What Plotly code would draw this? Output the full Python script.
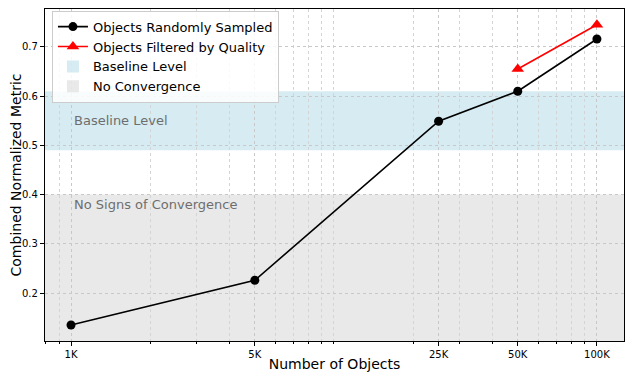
import plotly.graph_objects as go

# data
n_objects = [1000, 5000, 25000, 50000, 100000]
random_metric = [0.135, 0.226, 0.549, 0.610, 0.716]

filtered_objects = [50000, 100000]
filtered_metric = [0.655, 0.745]

tick_vals = [1000, 5000, 25000, 50000, 100000]
tick_text = ["1K", "5K", "25K", "50K", "100K"]

baseline_band = (0.49, 0.61)
no_conv_band = (0.0, 0.40)

fig = go.Figure()

fig.add_trace(go.Scatter(
    x=n_objects, y=random_metric, mode="lines+markers",
    name="Objects Randomly Sampled",
    line=dict(color="black", width=1.6),
    marker=dict(color="black", size=9, symbol="circle"),
))

fig.add_trace(go.Scatter(
    x=filtered_objects, y=filtered_metric, mode="lines+markers",
    name="Objects Filtered by Quality",
    line=dict(color="red", width=1.6),
    marker=dict(color="red", size=11, symbol="triangle-up"),
))

# shaded regions (with legend entries)
fig.add_shape(type="rect", xref="x domain", yref="y",
              x0=0, x1=1, y0=baseline_band[0], y1=baseline_band[1],
              fillcolor="rgba(173,216,230,0.5)", line=dict(width=0),
              layer="below", showlegend=True, name="Baseline Level")
fig.add_shape(type="rect", xref="x domain", yref="y",
              x0=0, x1=1, y0=no_conv_band[0], y1=no_conv_band[1],
              fillcolor="rgba(211,211,211,0.5)", line=dict(width=0),
              layer="below", showlegend=True, name="No Convergence")

fig.add_annotation(x=0.047, xref="x domain", y=0.55, yref="y",
                   text="Baseline Level", showarrow=False, xanchor="left",
                   font=dict(size=13, color="#6e6e6e"))
fig.add_annotation(x=0.047, xref="x domain", y=0.38, yref="y",
                   text="No Signs of Convergence", showarrow=False, xanchor="left",
                   font=dict(size=13, color="#6e6e6e"))

fig.update_xaxes(
    type="log", range=[2.901, 5.103], automargin=False,
    tickmode="array", tickvals=tick_vals, ticktext=tick_text,
    ticks="outside", ticklen=4, tickcolor="black",
    tickfont=dict(size=10, color="black"),
    showgrid=True, gridcolor="#c8c8c8", griddash="dot", gridwidth=1,
    minor=dict(dtick="D1", showgrid=True, gridcolor="#d4d4d4", griddash="dot",
               ticks="outside", ticklen=2, tickcolor="black"),
    showline=True, linecolor="black", linewidth=1.2, mirror=True,
    zeroline=False,
    title=dict(text="Number of Objects", font=dict(size=14, color="black"), standoff=0),
)

fig.update_yaxes(
    range=[0.1026, 0.777], automargin=False,
    tickvals=[0.2, 0.3, 0.4, 0.5, 0.6, 0.7],
    ticks="outside", ticklen=4, tickcolor="black",
    tickfont=dict(size=10, color="black"),
    showgrid=True, gridcolor="#c8c8c8", griddash="dot", gridwidth=1,
    showline=True, linecolor="black", linewidth=1.2, mirror=True,
    zeroline=False,
    title=dict(text="Combined Normalized Metric", font=dict(size=14, color="black"), standoff=2),
)

# the page body adds an 8px offset, so the figure is sized to fit inside the window
fig.update_layout(
    width=626, height=373,
    margin=dict(l=37, r=10, t=1, b=40),
    plot_bgcolor="white", paper_bgcolor="white",
    font=dict(family="DejaVu Sans", color="black"),
    legend=dict(x=0.012, y=0.995, xanchor="left", yanchor="top",
                bgcolor="rgba(255,255,255,0.85)", bordercolor="#cccccc", borderwidth=1,
                font=dict(size=13), tracegroupgap=0),
)

fig.write_html("out.html")
